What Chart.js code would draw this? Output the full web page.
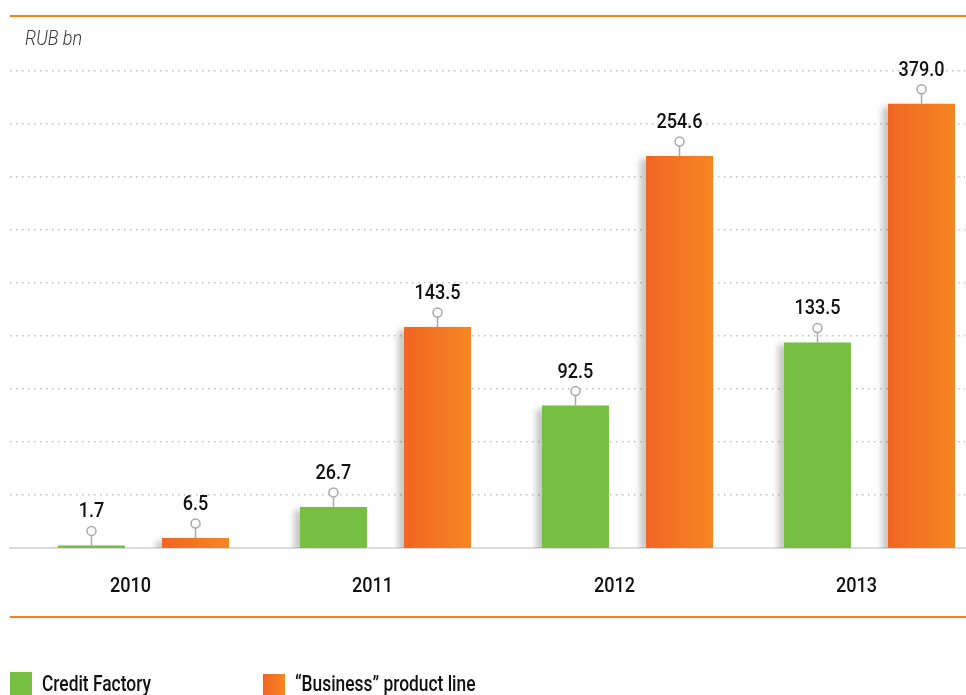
<!DOCTYPE html>
<html lang="en">
<head>
  <meta charset="UTF-8" />
  <title>Credit Factory vs Business product line</title>
  <script src="https://cdn.jsdelivr.net/npm/chart.js@4.4.1/dist/chart.umd.min.js"></script>
  <style>
    body { margin: 0; background: #fff; overflow: hidden; }
    #wrap { position: relative; width: 966px; height: 695px; }
  </style>
</head>
<body>
  <div id="wrap"><canvas id="myChart"></canvas></div>

  <script>
    // values (RUB bn)
    const years = ['2010', '2011', '2012', '2013'];
    const creditFactory = [1.7, 26.7, 92.5, 133.5];
    const businessLine = [6.5, 143.5, 254.6, 379.0];
    const seriesNames = ['Credit Factory', '\u201CBusiness\u201D product line'];
    const unitLabel = 'RUB bn';

    const FONT = "Roboto, 'DejaVu Sans Condensed', sans-serif";
    const GREEN = '#77bf43';
    const ORANGE_L = '#f16522';
    const ORANGE_R = '#f68722';
    const RULE = '#f58220';

    // the original chart squeezes the tallest bar, so the axis is compressed above a break
    class BrokenScale extends Chart.LinearScale {
      squash(v) {
        const b = this.options.breakAt, r = this.options.breakRatio;
        return v > b ? b + (v - b) * r : v;
      }
      getPixelForValue(v) {
        return super.getPixelForValue(this.squash(v));
      }
      getValueForPixel(p) {
        const v = super.getValueForPixel(p);
        const b = this.options.breakAt, r = this.options.breakRatio;
        return v > b ? b + (v - b) / r : v;
      }
    }
    BrokenScale.id = 'broken';
    BrokenScale.defaults = Chart.LinearScale.defaults;
    Chart.register(BrokenScale);

    function orangeGradient(ctx, x0, x1) {
      const g = ctx.createLinearGradient(x0, 0, x1, 0);
      g.addColorStop(0, ORANGE_L);
      g.addColorStop(1, ORANGE_R);
      return g;
    }

    // the original uses a condensed face, so text is squeezed horizontally
    function squeezedText(ctx, text, x, y, sx, align) {
      ctx.save();
      ctx.translate(x, y);
      ctx.scale(sx, 1);
      ctx.textAlign = align;
      ctx.textBaseline = 'alphabetic';
      ctx.fillText(text, 0, 0);
      ctx.restore();
    }

    const decorations = {
      id: 'decorations',
      beforeDatasetsDraw(chart) {
        const ctx = chart.ctx;
        // gradient on the orange bars
        chart.getDatasetMeta(1).data.forEach(el => {
          const { x, width } = el.getProps(['x', 'width'], true);
          el.options.backgroundColor = orangeGradient(ctx, x - width / 2, x + width / 2);
        });
        ctx.save();
        ctx.shadowColor = 'rgba(0,0,0,0.22)';
        ctx.shadowBlur = 6;
        ctx.shadowOffsetX = -6;
        ctx.shadowOffsetY = 3;
      },
      afterDatasetsDraw(chart) {
        const ctx = chart.ctx;
        ctx.restore();
        ctx.save();
        chart.data.datasets.forEach((ds, di) => {
          chart.getDatasetMeta(di).data.forEach((el, i) => {
            const { x, y } = el.getProps(['x', 'y'], true);
            ctx.strokeStyle = '#a9a9a9';
            ctx.lineWidth = 1.5;
            ctx.beginPath();
            ctx.moveTo(x, y);
            ctx.lineTo(x, y - 10);
            ctx.stroke();
            ctx.beginPath();
            ctx.arc(x, y - 14.5, 4.5, 0, Math.PI * 2);
            ctx.fillStyle = '#fff';
            ctx.fill();
            ctx.stroke();
            ctx.fillStyle = '#111';
            ctx.font = '500 21px ' + FONT;
            squeezedText(ctx, ds.data[i].y.toFixed(1), x, y - 28, 0.86, 'center');
          });
        });
        ctx.restore();
      },
      afterDraw(chart) {
        const ctx = chart.ctx;
        const xs = chart.scales.x;
        ctx.save();
        // orange rules top and bottom
        ctx.fillStyle = RULE;
        ctx.fillRect(10, 15, 956, 2);
        ctx.fillRect(10, 616, 956, 2);
        // category labels, from the x scale ticks
        ctx.fillStyle = '#111';
        ctx.font = '500 21px ' + FONT;
        xs.ticks.forEach((t, i) => {
          squeezedText(ctx, years[t.value], xs.getPixelForTick(i) - 13, 592, 0.86, 'center');
        });
        // unit label
        ctx.fillStyle = '#3a3a3a';
        ctx.font = 'italic 300 21px ' + FONT;
        squeezedText(ctx, unitLabel, 25, 45, 0.86, 'left');
        // legend
        const items = [
          { x: 10, top: 672, fill: GREEN },
          { x: 263, top: 674, fill: null }
        ];
        ctx.font = '500 22px ' + FONT;
        items.forEach((it, i) => {
          ctx.fillStyle = it.fill || orangeGradient(ctx, it.x, it.x + 22);
          ctx.fillRect(it.x, it.top, 22, 30);
          ctx.fillStyle = '#111';
          squeezedText(ctx, chart.data.datasets[i].label, it.x + 32, 691, 0.79, 'left');
        });
        ctx.restore();
      }
    };

    const ctx = document.getElementById('myChart').getContext('2d');
    const myChart = new Chart(ctx, {
      type: 'bar',
      data: {
        datasets: [{
          label: seriesNames[0],
          data: creditFactory.map((v, i) => ({ x: i, y: v })),
          backgroundColor: GREEN,
          categoryPercentage: 0.86,
          barPercentage: 0.644
        }, {
          label: seriesNames[1],
          data: businessLine.map((v, i) => ({ x: i, y: v })),
          backgroundColor: () => ORANGE_R, // scriptable so each bar can get its own gradient
          categoryPercentage: 0.86,
          barPercentage: 0.644
        }]
      },
      options: {
        responsive: true,
        maintainAspectRatio: false,
        animation: false,
        layout: { padding: { top: 71, left: 10, right: 1, bottom: 0 } },
        plugins: { legend: { display: false }, tooltip: { enabled: false } },
        scales: {
          x: {
            type: 'linear',
            offset: false,
            min: -0.5517,
            max: 3.3946,
            afterBuildTicks: axis => { axis.ticks = years.map((y, i) => ({ value: i })); },
            afterFit: axis => { axis.height = 147; },
            grid: { display: false, drawTicks: false },
            border: { display: true, color: '#dcdcdc', width: 2 },
            ticks: { display: false }
          },
          y: {
            type: 'broken',
            min: 0,
            max: 309.8,
            breakAt: 254.6,
            breakRatio: 0.273,
            display: false
          },
          grid9: {
            type: 'linear',
            position: 'left',
            min: 0,
            max: 9,
            afterBuildTicks: axis => {
              axis.ticks = [1, 2, 3, 4, 5, 6, 7, 8, 9].map(v => ({ value: v }));
            },
            afterFit: axis => { axis.width = 0; },
            grid: { color: '#c2c2c2', lineWidth: 1.5, drawTicks: false },
            border: { display: false, dash: [1.5, 4.5] },
            ticks: { display: false }
          }
        }
      },
      plugins: [decorations]
    });
  </script>
</body>
</html>
